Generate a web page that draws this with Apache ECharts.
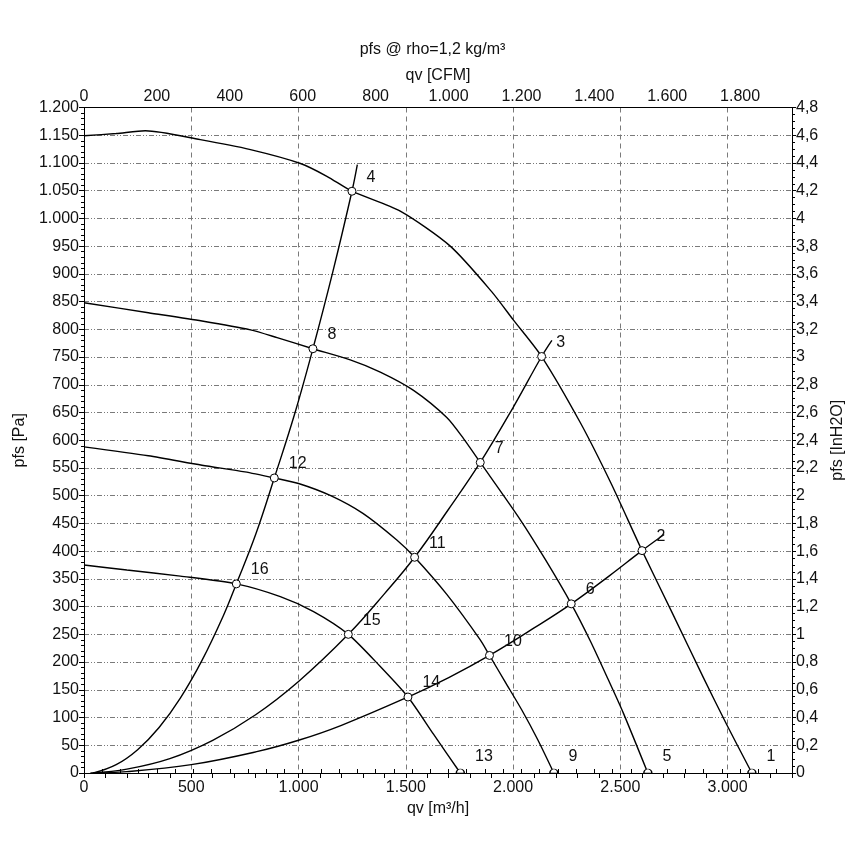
<!DOCTYPE html>
<html>
<head>
<meta charset="utf-8">
<script src="https://cdn.jsdelivr.net/npm/echarts@6/dist/echarts.min.js"></script>
<style>
html,body{margin:0;padding:0;background:#fff;}
#chart{width:865px;height:856px;}
</style>
</head>
<body>
<div id="chart"></div>
<script>
// ---- Data ----
// Fan curves: flow qv [m3/h] and static pressure pfs [Pa]
const fanA_q = [0,150,286,542,776,1009,1132,1249,1474,1707,1900,2001,2133,2313,2457,2601,2744,2887,2996,3113];
const fanA_p = [1149,1153,1158,1142,1124,1099,1076,1049,1013,950,868,817,751,632,522,401,287,172,87,0];
const fanB_q = [0,300,550,776,900,1067,1241,1381,1536,1691,1769,1847,2033,2150,2271,2360,2444,2514,2628];
const fanB_p = [848,830,815,799,785,765,745,723,690,641,603,560,457,385,305,238,168,108,0];
const fanC_q = [0,300,550,750,887,1000,1150,1300,1458,1541,1691,1847,1890,1965,2040,2115,2190];
const fanC_p = [588,572,555,543,532,522,500,468,420,389,322,240,212,163,114,60,0];
const fanD_q = [0,200,449,710,915,1070,1232,1381,1510,1629,1754];
const fanD_p = [375,366,355,341,318,291,250,192,137,70,0];
// System curves
const sys1_q = [44,150,250,350,449,550,650,710,800,887,980,1067,1160,1249,1274];
const sys1_p = [0,15,42,82,135,203,284,341,430,532,645,765,904,1049,1097];
const sys2_q = [40,200,400,600,800,1000,1232,1400,1541,1700,1847,2000,2133,2181];
const sys2_p = [0,7,26,59,105,165,250,323,389,476,560,659,751,780];
const sys3_q = [30,200,500,800,1000,1200,1510,1700,1890,2100,2271,2450,2601,2704];
const sys3_p = [0,2.4,15,38,59,86,137,172,212,262,305,356,401,430];
// Operating points
const opLabels = ['1','2','3','4','5','6','7','8','9','10','11','12','13','14','15','16'];
const opQ = [3113,2601,2133,1249,2628,2271,1847,1067,2190,1890,1541,887,1754,1510,1232,710];
const opP = [0,401,751,1049,0,305,560,765,0,212,389,532,0,137,250,341];
// Axes
const qMax = 3300;            // m3/h
const cfmPerM3h = 1 / 1.69901;
const pMax = 1200;            // Pa
const inH2OMax = 4.8;

// ---- Build ----
const zip = (a, b) => a.map((v, i) => [v, b[i]]);
const thousands = v => String(Math.round(v)).replace(/\B(?=(\d{3})+(?!\d))/g, '.');
const FONT = '"Liberation Sans", Arial, sans-serif';
const TXT = '#111';

const curveStyle = { color: '#000', width: 1.4 };
function curve(q, p, smooth) {
  return {
    type: 'line', data: zip(q, p), smooth: smooth, showSymbol: false, symbol: 'none',
    lineStyle: curveStyle, itemStyle: { color: '#000' }, silent: true, z: 3
  };
}

const halfCircle = 'path://M0,4A4,4 0 0 1 8,4Z';
const opData = opQ.map((q, i) => {
  const item = { name: opLabels[i], value: [q, opP[i]] };
  if (opP[i] === 0) {
    item.symbol = halfCircle;
    item.symbolSize = [8, 4];
    item.symbolOffset = [0, -2];
  }
  return item;
});

const chart = echarts.init(document.getElementById('chart'), null, { renderer: 'canvas' });
const option = {
  animation: false,
  backgroundColor: '#fff',
  textStyle: { fontFamily: FONT },
  title: {
    text: 'pfs @ rho=1,2 kg/m³', left: 'center', top: 37,
    textStyle: { fontSize: 16, fontWeight: 'normal', color: TXT, fontFamily: FONT }
  },
  grid: { left: 84, right: 73, top: 107.5, bottom: 83, containLabel: false },
  xAxis: [
    {
      type: 'value', position: 'bottom', min: 0, max: qMax, interval: 500,
      name: 'qv [m³/h]', nameLocation: 'middle', nameGap: 27,
      nameTextStyle: { fontSize: 16, color: TXT, fontFamily: FONT },
      axisLine: { show: true, onZero: false, lineStyle: { color: '#000', width: 1 } },
      axisTick: { show: false },
      axisLabel: {
        margin: 7, fontSize: 16, color: TXT, fontFamily: FONT, showMaxLabel: false,
        formatter: v => (v % 500 === 0 ? thousands(v) : '')
      },
      splitLine: { show: true, lineStyle: { color: '#7a7a7a', type: [5, 4], width: 1 } }
    },
    {
      type: 'value', position: 'top', min: 0, max: qMax * cfmPerM3h, interval: 200,
      name: 'qv [CFM]', nameLocation: 'middle', nameGap: 23,
      nameTextStyle: { fontSize: 16, color: TXT, fontFamily: FONT },
      axisLine: { show: true, onZero: false, lineStyle: { color: '#000', width: 1 } },
      axisTick: { show: false },
      axisLabel: {
        margin: 3, fontSize: 16, color: TXT, fontFamily: FONT, showMaxLabel: false,
        formatter: v => (Math.abs(v % 200) < 1e-6 ? thousands(v) : '')
      },
      splitLine: { show: false }
    },
    {
      type: 'value', position: 'bottom', min: 0, max: qMax, interval: 100,
      axisLine: { show: false }, axisLabel: { show: false }, splitLine: { show: false },
      axisTick: { show: true, length: 5, lineStyle: { color: '#000' } }
    },
    {
      type: 'value', position: 'top', min: 0, max: qMax * cfmPerM3h, interval: 50,
      axisLine: { show: false }, axisLabel: { show: false }, splitLine: { show: false },
      axisTick: { show: true, length: 4, lineStyle: { color: '#000' } }
    }
  ],
  yAxis: [
    {
      type: 'value', position: 'left', min: 0, max: pMax, interval: 50,
      name: 'pfs [Pa]', nameLocation: 'middle', nameGap: 45,
      nameTextStyle: { fontSize: 16, color: TXT, fontFamily: FONT },
      axisLine: { show: true, onZero: false, lineStyle: { color: '#000', width: 1 } },
      axisTick: { show: true, length: 5, lineStyle: { color: '#000' } },
      minorTick: { show: true, splitNumber: 5, length: 3, lineStyle: { color: '#000' } },
      axisLabel: { margin: 5, fontSize: 16, color: TXT, fontFamily: FONT, formatter: v => thousands(v) },
      splitLine: { show: true, lineStyle: { color: '#7a7a7a', type: [5, 2, 1, 2, 1, 2], width: 1 } }
    },
    {
      type: 'value', position: 'right', min: 0, max: inH2OMax, interval: 0.2,
      name: 'pfs [InH2O]', nameLocation: 'middle', nameGap: 38,
      nameTextStyle: { fontSize: 16, color: TXT, fontFamily: FONT },
      axisLine: { show: true, onZero: false, lineStyle: { color: '#000', width: 1 } },
      axisTick: { show: true, length: 4, lineStyle: { color: '#000' } },
      minorTick: { show: true, splitNumber: 4, length: 3, lineStyle: { color: '#000' } },
      axisLabel: {
        margin: 4, fontSize: 16, color: TXT, fontFamily: FONT,
        formatter: v => String(Math.round(v * 10) / 10).replace('.', ',')
      },
      splitLine: { show: false }
    }
  ],
  series: [
    curve(fanA_q, fanA_p, 0.25),
    curve(fanB_q, fanB_p, 0.25),
    curve(fanC_q, fanC_p, 0.25),
    curve(fanD_q, fanD_p, 0.25),
    curve(sys1_q, sys1_p, 0.4),
    curve(sys2_q, sys2_p, 0.4),
    curve(sys3_q, sys3_p, 0.4),
    {
      type: 'scatter', data: opData, symbol: 'circle', symbolSize: 8, z: 5,
      itemStyle: { color: '#fff', borderColor: '#000', borderWidth: 1, opacity: 1 },
      label: {
        show: true, position: 'right', distance: 5, offset: [5, -14],
        formatter: p => p.name, fontSize: 16, color: TXT, fontFamily: FONT
      },
      emphasis: { disabled: true }, silent: true
    }
  ]
};
chart.setOption(option);
</script>
</body>
</html>
